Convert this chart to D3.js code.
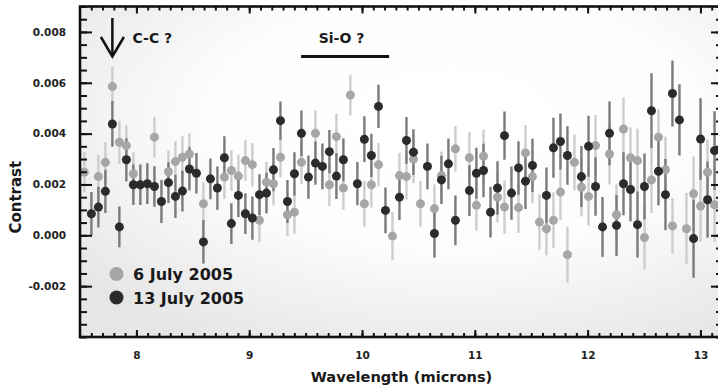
<!DOCTYPE html>
<html lang="en">
<head>
    <meta charset="UTF-8">
    <title>Contrast vs Wavelength</title>
    <script src="https://cdn.jsdelivr.net/npm/d3@7"></script>
    <style>
        body { margin: 0; background: #ffffff; }
        .axis text {
            font-family: 'DejaVu Sans', sans-serif;
            font-weight: bold;
            font-size: 10.5px;
            fill: #222;
        }
        .axis line { stroke: #111; }
        .titulo {
            font-family: 'DejaVu Sans', sans-serif;
            font-weight: bold;
            fill: #1a1a1a;
        }
    </style>
</head>
<body>
<div id="grafico"></div>
<script>
var w = 718;
var h = 389;

// wavelengths (microns), same grid for both nights
var wavelengths = [
    7.539, 7.601, 7.663, 7.725, 7.787, 7.849, 7.911, 7.973, 8.035, 8.097,
    8.160, 8.222, 8.284, 8.346, 8.408, 8.470, 8.532, 8.594, 8.656, 8.718,
    8.780, 8.842, 8.904, 8.966, 9.028, 9.091, 9.153, 9.215, 9.277, 9.339,
    9.401, 9.463, 9.525, 9.587, 9.649, 9.711, 9.773, 9.835, 9.897, 9.959,
    10.021, 10.083, 10.146, 10.208, 10.270, 10.332, 10.394, 10.456, 10.518, 10.580,
    10.642, 10.704, 10.766, 10.828, 10.890, 10.952, 11.014, 11.077, 11.139, 11.201,
    11.263, 11.325, 11.387, 11.449, 11.511, 11.573, 11.635, 11.697, 11.759, 11.821,
    11.883, 11.945, 12.008, 12.070, 12.132, 12.194, 12.256, 12.318, 12.380, 12.442,
    12.504, 12.566, 12.628, 12.690, 12.752, 12.814, 12.876, 12.939, 13.001, 13.063,
    13.125
];

// contrast in units of 0.001 (null = no point visible)
var july6 = [
    2.48, null, 2.31, 2.87, 5.85, 3.66, 3.53, 2.42, null, null,
    3.86, null, 2.50, 2.90, 3.07, 3.20, null, 1.24, null, null,
    2.29, 2.55, 2.33, 2.94, 2.78, 0.59, 2.09, 2.03, 3.07, 0.81,
    0.91, 2.87, null, 4.01, null, 1.99, 3.88, 1.86, 5.52, null,
    1.24, 1.99, 2.78, null, -0.03, 2.35, 2.31, 3.00, 1.24, null,
    1.05, 2.35, null, 3.40, null, 3.05, 1.18, 3.11, null, 1.50,
    1.11, null, 1.09, 3.24, 2.31, 0.52, 0.26, 0.59, 1.70, -0.76,
    2.87, 1.89, 1.53, 3.53, null, 3.20, 0.81, 4.18, 3.05, 2.94,
    -0.09, 2.18, 3.86, 2.58, 0.37, null, 0.26, 1.63, 1.15, 2.48,
    1.20
];
var july6Err = [
    0.80, 0.80, 0.85, 0.80, 0.80, 0.85, 0.80, 0.85, 0.80, 0.80,
    0.80, 0.80, 0.85, 0.80, 0.85, 0.80, 0.80, 0.85, 0.80, 0.80,
    0.85, 0.80, 0.85, 0.80, 0.85, 0.85, 0.80, 0.85, 0.80, 0.85,
    0.85, 0.85, 0.85, 0.90, 0.85, 0.85, 0.90, 0.85, 0.80, 0.90,
    0.90, 0.90, 0.85, 0.90, 0.95, 0.90, 0.90, 0.95, 0.90, 0.95,
    0.95, 0.95, 1.00, 0.90, 1.00, 1.00, 1.00, 1.05, 1.00, 1.00,
    1.05, 1.05, 1.00, 1.10, 1.05, 1.10, 1.05, 1.10, 1.10, 1.10,
    1.10, 1.15, 1.15, 1.20, 1.15, 1.20, 1.20, 1.25, 1.20, 1.25,
    1.25, 1.30, 1.10, 1.30, 1.10, 1.35, 1.40, 1.47, 1.40, 1.30,
    1.45
];
var july13 = [
    null, 0.85, 1.11, 1.73, 4.38, 0.33, 2.97, 1.99, 1.99, 2.03,
    1.92, 1.33, 2.07, 1.53, 1.74, 2.61, 2.44, -0.26, 2.22, 1.86,
    3.05, 0.46, 1.57, 0.85, 0.68, 1.60, 1.66, 2.58, 4.51, 1.33,
    2.42, 4.01, 2.29, 2.84, 2.71, 3.29, 2.33, 2.97, null, 2.03,
    3.78, 3.14, 5.07, 0.98, null, 1.50, 3.73, 3.27, null, 2.71,
    0.07, 2.18, 2.81, 0.59, null, 1.76, 2.44, 2.55, 0.91, 1.86,
    3.92, 1.66, 2.65, 2.13, 2.75, null, 1.57, 3.44, 3.69, 3.14,
    null, 2.31, 3.50, 1.92, 0.33, 4.01, 0.39, 2.03, 1.80, 0.42,
    1.92, 4.90, 2.52, 1.60, 5.58, 4.54, null, -0.13, 3.79, 1.40,
    3.33
];
var july13Err = [
    0.85, 0.85, 0.80, 0.85, 0.90, 0.80, 0.85, 0.80, 0.80, 0.80,
    0.80, 0.85, 0.80, 0.85, 0.80, 0.85, 0.80, 0.85, 0.80, 0.85,
    0.85, 0.80, 0.85, 0.80, 0.85, 0.80, 0.80, 0.85, 0.75, 0.85,
    0.85, 0.90, 0.85, 0.85, 0.90, 0.85, 0.90, 0.85, 0.90, 0.85,
    0.90, 0.85, 0.85, 0.90, 0.90, 0.90, 0.92, 0.90, 0.95, 0.90,
    0.95, 0.95, 1.00, 0.98, 1.00, 1.00, 1.00, 1.05, 1.00, 1.05,
    0.95, 1.05, 1.05, 1.10, 1.05, 1.10, 1.10, 1.18, 1.10, 1.15,
    1.15, 1.20, 1.20, 1.15, 1.18, 1.25, 1.20, 1.24, 1.25, 1.30,
    1.30, 1.47, 1.35, 1.40, 1.30, 1.40, 1.45, 1.54, 1.60, 1.50,
    1.55
];

var xTicks = [8, 9, 10, 11, 12, 13];
var yTicks = [-2, 0, 2, 4, 6, 8];
var seriesNames = ["6 July 2005", "13 July 2005"];

// bordes del area del grafico (no usar "top": choca con window.top)
var pLeft = 80, pRight = 723, pTop = 6.5, pBottom = 337;

var xScale = d3.scaleLinear().domain([7.5, 13.2]).range([pLeft, pRight]);
var yScale = d3.scaleLinear().domain([-4, 9]).range([pBottom, pTop]);

var svg = d3.select("#grafico").append("svg")
    .attr("width", w)
    .attr("height", h);

// fondo con degradado suave
var defs = svg.append("defs");
var grad = defs.append("radialGradient")
    .attr("id", "fondo")
    .attr("cx", "58%").attr("cy", "35%").attr("r", "75%");
grad.append("stop").attr("offset", "0%").attr("stop-color", "#ffffff");
grad.append("stop").attr("offset", "50%").attr("stop-color", "#fdfdfd");
grad.append("stop").attr("offset", "100%").attr("stop-color", "#e6e6e6");

defs.append("clipPath").attr("id", "recorte")
    .append("rect")
    .attr("x", pLeft).attr("y", pTop)
    .attr("width", pRight - pLeft).attr("height", pBottom - pTop);

svg.append("rect")
    .attr("x", pLeft).attr("y", pTop)
    .attr("width", pRight - pLeft).attr("height", pBottom - pTop)
    .attr("fill", "url(#fondo)");

// build point lists
function puntos(vals, errs) {
    var out = [];
    for (var i = 0; i < wavelengths.length; i++) {
        if (vals[i] !== null) out.push({x: wavelengths[i], y: vals[i], e: errs[i]});
    }
    return out;
}
var datos6 = puntos(july6, july6Err);
var datos13 = puntos(july13, july13Err);

var capa = svg.append("g").attr("clip-path", "url(#recorte)");

function barras(data, color) {
    capa.append("g").selectAll("line")
        .data(data)
        .enter()
        .append("line")
        .attr("x1", function(d){ return xScale(d.x); })
        .attr("x2", function(d){ return xScale(d.x); })
        .attr("y1", function(d){ return yScale(d.y + d.e); })
        .attr("y2", function(d){ return yScale(d.y - d.e); })
        .attr("stroke", color)
        .attr("stroke-width", 2.4);
}
function bolas(data, color) {
    capa.append("g").selectAll("circle")
        .data(data)
        .enter()
        .append("circle")
        .attr("cx", function(d){ return xScale(d.x); })
        .attr("cy", function(d){ return yScale(d.y); })
        .attr("r", 4.5)
        .attr("fill", color);
}
barras(datos6, "#cdcdcd");
barras(datos13, "#7a7a7a");
bolas(datos6, "#a6a6a6");
bolas(datos13, "#2b2b2b");

// ejes: ticks hacia dentro en los cuatro lados
var xMinor = d3.range(76, 133).map(function(d){ return d / 10; });
var yMinor = d3.range(-8, 19).map(function(d){ return d / 2; });

svg.append("g").attr("class", "axis")
    .attr("transform", "translate(0," + pBottom + ")")
    .call(d3.axisBottom(xScale).tickValues(xMinor).tickSize(-4).tickFormat(""));
svg.append("g").attr("class", "axis")
    .attr("transform", "translate(0," + pBottom + ")")
    .call(d3.axisBottom(xScale).tickValues(xTicks).tickSize(-7).tickPadding(15).tickFormat(d3.format("d")));
svg.append("g").attr("class", "axis")
    .attr("transform", "translate(0," + pTop + ")")
    .call(d3.axisTop(xScale).tickValues(xMinor).tickSize(-4).tickFormat(""));
svg.append("g").attr("class", "axis")
    .attr("transform", "translate(0," + pTop + ")")
    .call(d3.axisTop(xScale).tickValues(xTicks).tickSize(-7).tickFormat(""));

svg.append("g").attr("class", "axis")
    .attr("transform", "translate(" + pLeft + ",0)")
    .call(d3.axisLeft(yScale).tickValues(yMinor).tickSize(-7).tickFormat(""));
svg.append("g").attr("class", "axis")
    .attr("transform", "translate(" + pLeft + ",0)")
    .call(d3.axisLeft(yScale).tickValues(yTicks).tickSize(-12).tickPadding(14)
        .tickFormat(function(d){ return (d / 1000).toFixed(3); }));
svg.append("g").attr("class", "axis")
    .attr("transform", "translate(" + pRight + ",0)")
    .call(d3.axisRight(yScale).tickValues(yMinor).tickSize(-7).tickFormat(""));
svg.append("g").attr("class", "axis")
    .attr("transform", "translate(" + pRight + ",0)")
    .call(d3.axisRight(yScale).tickValues(yTicks).tickSize(-12).tickFormat(""));

svg.selectAll(".axis path.domain").remove();
svg.selectAll(".axis line").attr("stroke-width", 2);

// marco
svg.append("rect")
    .attr("x", pLeft).attr("y", pTop)
    .attr("width", pRight - pLeft).attr("height", pBottom - pTop)
    .attr("fill", "none")
    .attr("stroke", "#111")
    .attr("stroke-width", 2.6);

// titulos de ejes
svg.append("text").attr("class", "titulo")
    .attr("x", xScale(10.35)).attr("y", 382)
    .attr("text-anchor", "middle")
    .attr("font-size", "14.6px")
    .text("Wavelength (microns)");
svg.append("text").attr("class", "titulo")
    .attr("transform", "translate(21," + yScale(1.5) + ") rotate(-90)")
    .attr("text-anchor", "middle")
    .attr("font-size", "15px")
    .text("Contrast");

// anotaciones
var cc = xScale(wavelengths[4]);
svg.append("line")
    .attr("x1", cc).attr("x2", cc).attr("y1", 18).attr("y2", 56)
    .attr("stroke", "#111").attr("stroke-width", 2.5);
svg.append("path")
    .attr("d", "M" + (cc - 11.5) + ",37 L" + cc + ",56.5 L" + (cc + 11.5) + ",37")
    .attr("fill", "none").attr("stroke", "#111").attr("stroke-width", 2.5);
svg.append("text").attr("class", "titulo")
    .attr("x", 132.5).attr("y", 42.5)
    .attr("font-size", "14px")
    .text("C-C ?");

svg.append("line")
    .attr("x1", xScale(9.46)).attr("x2", xScale(10.24))
    .attr("y1", 56.5).attr("y2", 56.5)
    .attr("stroke", "#111").attr("stroke-width", 3);
svg.append("text").attr("class", "titulo")
    .attr("x", 341.5).attr("y", 42.5)
    .attr("text-anchor", "middle")
    .attr("font-size", "14px")
    .text("Si-O ?");

// leyenda
var colores = ["#a6a6a6", "#2b2b2b"];
var leyenda = svg.append("g").selectAll("g")
    .data(seriesNames)
    .enter()
    .append("g")
    .attr("transform", function(d, i){ return "translate(116.5," + (274 + i * 23.5) + ")"; });
leyenda.append("circle")
    .attr("r", 7)
    .attr("fill", function(d, i){ return colores[i]; });
leyenda.append("text").attr("class", "titulo")
    .attr("x", 16.5).attr("y", 6.3)
    .attr("font-size", "16px")
    .text(function(d){ return d; });
</script>
</body>
</html>
